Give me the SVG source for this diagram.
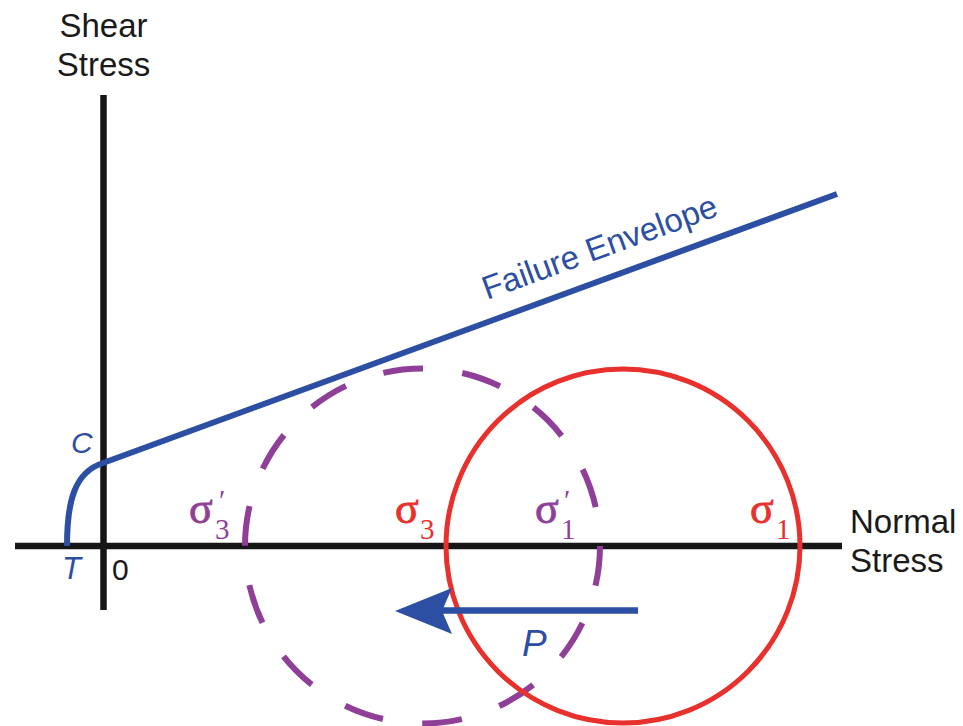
<svg xmlns="http://www.w3.org/2000/svg" width="963" height="726" viewBox="0 0 963 726">
<defs>
<style>
.ax{stroke:#161616;stroke-width:6.5;fill:none}
.lab{font-family:"Liberation Sans",Arial,sans-serif;font-size:33px;fill:#1a1a1a}
.it{font-family:"Liberation Sans",Arial,sans-serif;font-style:italic;fill:#2d4fa3}
.sig{font-family:"Liberation Serif","Times New Roman",serif;font-size:44px}
.sub{font-size:29px;stroke-width:0}
.red{fill:#e8302c;stroke:#e8302c;stroke-width:0.8}
.pur{fill:#8f3f98;stroke:#8f3f98;stroke-width:0.8}
</style>
</defs>
<rect width="963" height="726" fill="#ffffff"/>
<g id="axes">
<line class="ax" x1="103.5" y1="95" x2="103.5" y2="610"/>
<line class="ax" x1="15" y1="546" x2="842" y2="546"/>
</g>
<g id="circle-dashed">
<circle cx="422.5" cy="546" r="177.5" fill="none" stroke="#8f3f98" stroke-width="6" stroke-dasharray="40 39.66"/>
</g>
<g id="circle-solid">
<circle cx="623" cy="546" r="177" fill="none" stroke="#e8302c" stroke-width="5"/>
</g>
<g id="envelope">
<path d="M67,546 C67,500 75,472 103,463 L837,194" fill="none" stroke="#2d4fa3" stroke-width="6"/>
<text x="0" y="0" transform="translate(487,300) rotate(-20)" style="font-family:'Liberation Sans',Arial,sans-serif;font-size:33px;fill:#2d4fa3">Failure Envelope</text>
</g>
<g id="connectors">
<line x1="638" y1="610.5" x2="440" y2="610.5" stroke="#2d4fa3" stroke-width="6.5"/>
<polygon points="395,611 452,588 442,611 452,634" fill="#2d4fa3"/>
</g>
<g id="labels">
<text class="lab" x="103.5" y="37" text-anchor="middle">Shear</text>
<text class="lab" x="103.5" y="76" text-anchor="middle">Stress</text>
<text class="lab" x="850" y="533">Normal</text>
<text class="lab" x="850" y="572">Stress</text>
<text class="it" x="71" y="453" style="font-size:30px">C</text>
<text class="it" x="62" y="579" style="font-size:31px">T</text>
<text class="lab" x="112" y="580" style="font-size:30px">0</text>
<text class="it" x="522" y="656" style="font-size:37px">P</text>
</g>
<g id="sigma-labels" class="sig">
<text id="s3p" class="pur" x="189" y="523">σ<tspan class="sub" x="215 219" y="539 510">3′</tspan></text>
<text id="s3" class="red" x="395" y="523">σ<tspan class="sub" x="420" y="539">3</tspan></text>
<text id="s1p" class="pur" x="535" y="523">σ<tspan class="sub" x="561 564" y="539 510">1′</tspan></text>
<text id="s1" class="red" x="750" y="523">σ<tspan class="sub" x="776" y="539">1</tspan></text>
</g>
</svg>
